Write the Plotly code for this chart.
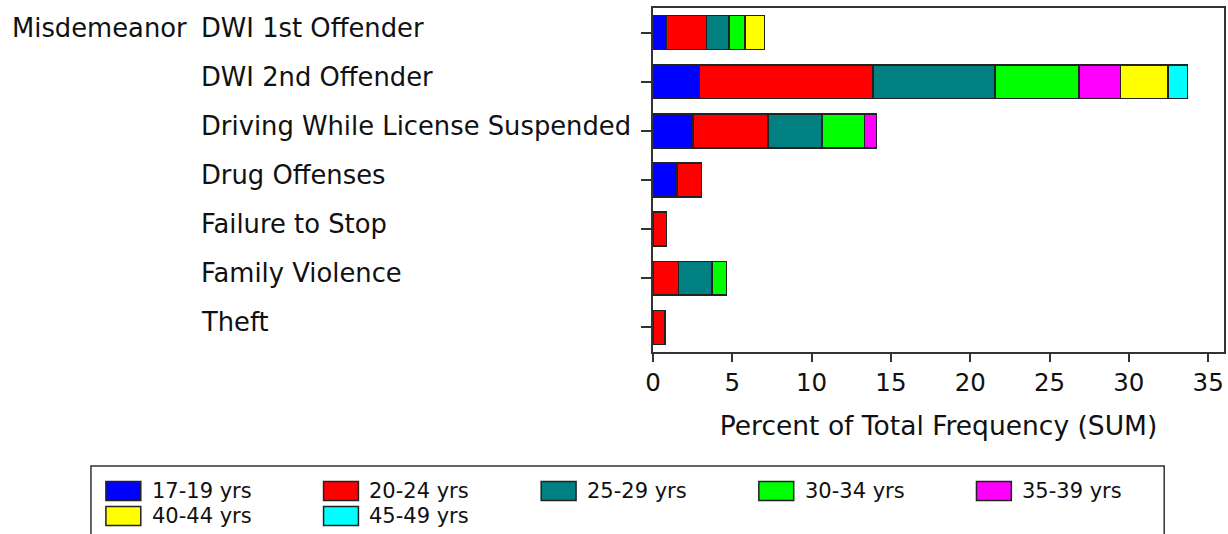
import plotly.graph_objects as go

# data (percent of total frequency)
offenses = ["DWI 1st Offender", "DWI 2nd Offender", "Driving While License Suspended",
            "Drug Offenses", "Failure to Stop", "Family Violence", "Theft"]
group_label = "Misdemeanor"
age_groups = ["17-19 yrs", "20-24 yrs", "25-29 yrs", "30-34 yrs", "35-39 yrs",
              "40-44 yrs", "45-49 yrs"]
colors = ["#0000FF", "#FF0000", "#008080", "#00FF00", "#FF00FF", "#FFFF00", "#00FFFF"]

age_17_19 = [0.86, 2.94, 2.52, 1.51, 0, 0, 0]
age_20_24 = [2.52, 10.92, 4.73, 1.56, 0.86, 1.62, 0.76]
age_25_29 = [1.41, 7.71, 3.42, 0, 0, 2.10, 0]
age_30_34 = [1.01, 5.29, 2.65, 0, 0, 0.90, 0]
age_35_39 = [0, 2.63, 0.76, 0, 0, 0, 0]
age_40_44 = [1.24, 2.98, 0, 0, 0, 0, 0]
age_45_49 = [0, 1.22, 0, 0, 0, 0, 0]
series = [age_17_19, age_20_24, age_25_29, age_30_34, age_35_39, age_40_44, age_45_49]

x_ticks = [0, 5, 10, 15, 20, 25, 30, 35]

FONT = "DejaVu Sans"
FIG_W, FIG_H = 1228, 534
L, T, R, B = 653, 8, 1226, 352   # plot area in pixels
W, H = R - L, B - T


def xp(px):
    return (px - L) / W


def yp(py):
    return (B - py) / H


fig = go.Figure()

for name, vals, col in zip(age_groups, series, colors):
    fig.add_trace(go.Bar(y=offenses, x=vals, name=name, orientation='h',
                         marker=dict(color=col, line=dict(color='#222222', width=1.5)),
                         showlegend=False))

fig.update_layout(barmode='stack', bargap=0.31,
                  width=FIG_W, height=FIG_H,
                  margin=dict(l=L, r=FIG_W - R, t=T, b=FIG_H - B),
                  plot_bgcolor='white', paper_bgcolor='white',
                  font=dict(family=FONT, size=25, color='#111111'))

fig.update_xaxes(range=[0, 36], tickvals=x_ticks, ticks='outside', ticklen=8, tickwidth=2,
                 tickcolor='#333333', showline=True, linecolor='#333333', linewidth=2,
                 mirror=True, showgrid=False, zeroline=False,
                 tickfont=dict(size=24.5),
                 title=dict(text="Percent of Total Frequency (SUM)", standoff=20,
                            font=dict(size=26.5)))

fig.update_yaxes(categoryorder='array', categoryarray=offenses, autorange='reversed',
                 ticks='outside', ticklen=10, tickwidth=2, tickcolor='#333333',
                 showline=True, linecolor='#333333', linewidth=2, mirror=True,
                 showgrid=False, showticklabels=False)

# left-aligned category labels
for cat in offenses:
    fig.add_annotation(x=xp(197), xref='paper', y=cat, yref='y', text=cat,
                       showarrow=False, xanchor='left', yanchor='middle', yshift=5,
                       font=dict(size=25.8))
fig.add_annotation(x=xp(8), xref='paper', y=offenses[0], yref='y', text=group_label,
                   showarrow=False, xanchor='left', yanchor='middle', yshift=5,
                   font=dict(size=25.8))

# legend box drawn by hand to get the big swatches
fig.add_shape(type='rect', xref='paper', yref='paper', x0=xp(89), x1=xp(1166),
              y0=yp(466), y1=yp(545), line=dict(color='#333333', width=1.5),
              fillcolor='rgba(0,0,0,0)')
for i, (name, col) in enumerate(zip(age_groups, colors)):
    row, c = divmod(i, 5)
    sx = 104 + 218.4 * c
    cy = 491 + 25 * row
    fig.add_shape(type='rect', xref='paper', yref='paper', x0=xp(sx), x1=xp(sx + 35),
                  y0=yp(cy - 9.5), y1=yp(cy + 9.5), fillcolor=col,
                  line=dict(color='#222222', width=1.5))
    fig.add_annotation(x=xp(sx + 45), xref='paper', y=yp(cy), yref='paper', text=name,
                       showarrow=False, xanchor='left', yanchor='middle',
                       font=dict(size=21), borderpad=0)

fig.write_html("out.html", config={'displayModeBar': False},
               post_script="document.body.style.margin='0';"
                           "document.body.style.overflow='hidden';")
